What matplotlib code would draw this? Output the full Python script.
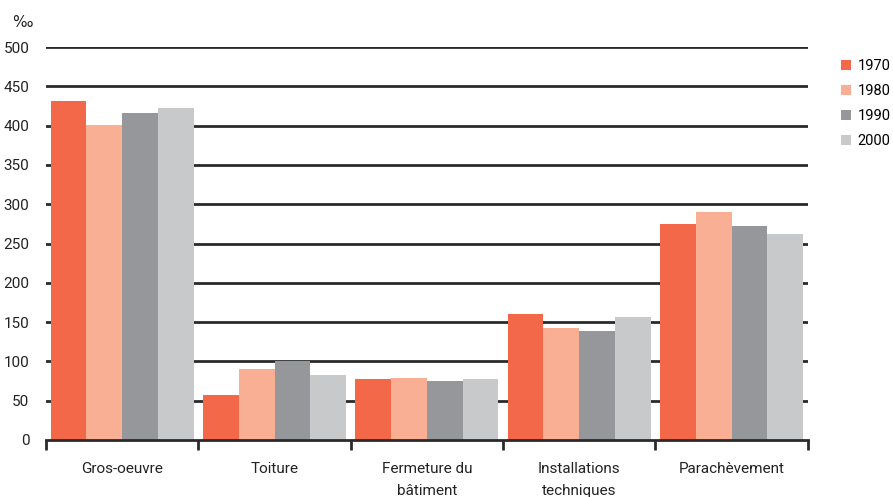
import numpy as np
import matplotlib.pyplot as plt

categories = ["Gros-oeuvre", "Toiture", "Fermeture du\nbâtiment",
              "Installations\ntechniques", "Parachèvement"]
years = ["1970", "1980", "1990", "2000"]
v1970 = [431, 57, 78, 160, 275]
v1980 = [401, 90, 79, 142, 290]
v1990 = [416, 101, 75, 139, 272]
v2000 = [422, 83, 78, 157, 262]
yticks = [0, 50, 100, 150, 200, 250, 300, 350, 400, 450, 500]

colors = ["#F26849", "#F8AF94", "#96979B", "#C8C9CB"]
series = [v1970, v1980, v1990, v2000]

plt.rcParams['font.family'] = ['Liberation Sans Narrow', 'Roboto', 'DejaVu Sans']

fig = plt.figure(figsize=(8.93, 4.97), dpi=100)
ax = fig.add_axes([0.0515, 0.1147, 0.853, 0.7907])

x = np.arange(len(categories))
w = 0.235
for i, vals in enumerate(series):
    ax.bar(x + (i - 1.5) * w, vals, width=w, color=colors[i],
           label=years[i], zorder=3, linewidth=0)

ax.set_xlim(-0.5, len(categories) - 0.5)
ax.set_ylim(0, 500)
ax.set_yticks(yticks)
ax.set_yticklabels([str(t) for t in yticks], fontsize=11, family=['Roboto', 'DejaVu Sans'],
                   color="#222222")
for t in yticks[1:]:
    ax.axhline(t, color="#2a2a2a", linewidth=2, zorder=1)
ax.tick_params(axis='y', length=0, pad=12)

# group separators on the bottom axis
ax.set_xticks(np.arange(len(categories) + 1) - 0.5)
ax.set_xticklabels([])
ax.tick_params(axis='x', length=7, width=2, color="#2a2a2a", direction='out')
ax.set_xticks(x, minor=True)
ax.set_xticklabels(categories, minor=True, fontsize=11, color="#222222",
                   linespacing=1.75, va='top')
ax.tick_params(axis='x', which='minor', length=0, pad=16)

for s in ["top", "right", "left"]:
    ax.spines[s].set_visible(False)
ax.spines["bottom"].set_color("#2a2a2a")
ax.spines["bottom"].set_linewidth(2)
ax.spines["bottom"].set_zorder(4)

fig.text(0.025, 0.955, "‰", fontsize=11, color="#222222", ha='center', va='center',
         family=['DejaVu Sans'])

ax.legend(loc='upper left', bbox_to_anchor=(1.03, 0.995), frameon=False,
          handlelength=0.7, handleheight=0.7, handletextpad=0.45,
          labelspacing=0.75, borderaxespad=0.3,
          prop={'family': ['Roboto', 'DejaVu Sans'], 'size': 10.5})

fig.savefig("out.png", dpi=100)
